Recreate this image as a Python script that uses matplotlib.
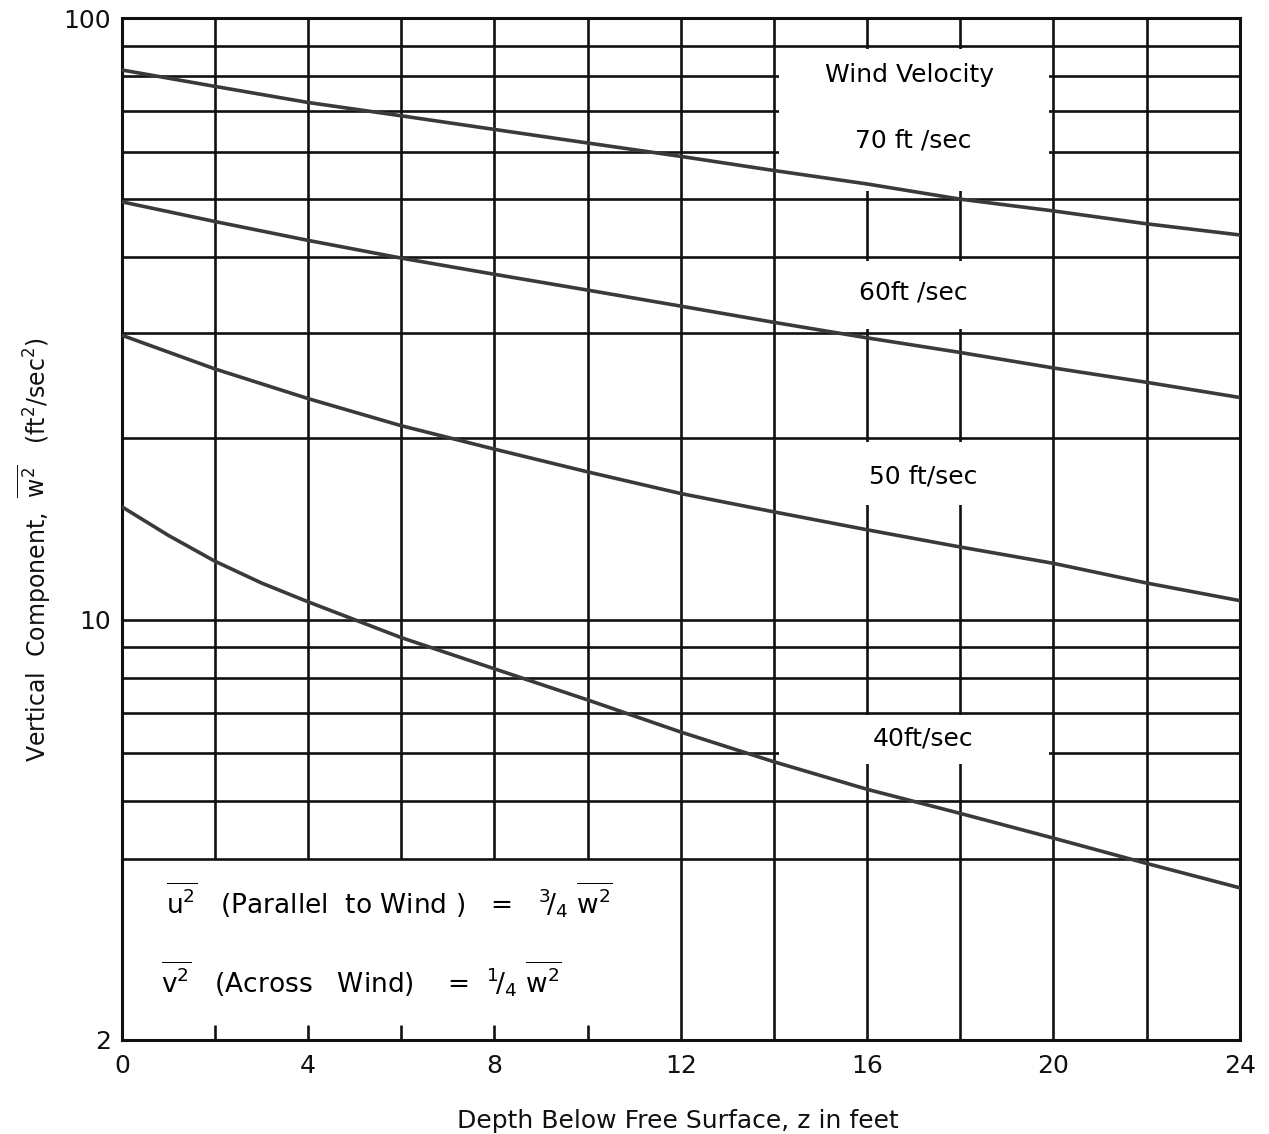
import matplotlib
matplotlib.use("Agg")
import matplotlib.pyplot as plt
from matplotlib.patches import Rectangle
from matplotlib.ticker import NullLocator, FixedLocator

plt.rcParams['font.family'] = ['DejaVu Sans']
plt.rcParams['mathtext.fontset'] = 'dejavusans'

# depth below free surface, z (ft)
depth = [0, 2, 4, 6, 8, 10, 12, 14, 16, 18, 20, 22, 24]
depth_40 = [0, 1, 2, 3, 4, 6, 8, 10, 12, 14, 16, 18, 20, 22, 24]

# vertical component w^2 (ft^2/sec^2)
w2_70 = [82, 77, 72.4, 68.8, 65.3, 62, 58.9, 55.8, 53.0, 50.0, 47.8, 45.5, 43.6]
w2_60 = [49.5, 45.9, 42.7, 39.9, 37.5, 35.3, 33.2, 31.2, 29.4, 27.8, 26.2, 24.8, 23.4]
w2_50 = [29.7, 26.1, 23.3, 21.0, 19.2, 17.6, 16.2, 15.1, 14.1, 13.2, 12.4, 11.5, 10.75]
w2_40 = [15.4, 13.8, 12.5, 11.5, 10.7, 9.33, 8.28, 7.35, 6.5, 5.8, 5.22, 4.76, 4.33, 3.93, 3.58]

curves = [(depth, w2_70), (depth, w2_60), (depth, w2_50), (depth_40, w2_40)]
curve_labels = ['70 ft /sec', '60ft /sec', '50 ft/sec', '40ft/sec']

x_ticks = [0, 4, 8, 12, 16, 20, 24]
y_ticks = [2, 10, 100]
h_grid = [4, 5, 6, 7, 8, 9, 10, 20, 30, 40, 50, 60, 70, 80, 90]
v_grid = [2, 4, 6, 8, 10, 12, 14, 16, 18, 20, 22]

fig = plt.figure(figsize=(12.69, 11.34), dpi=100)
ax = fig.add_axes([0.096, 0.083, 0.881, 0.901])
ax.set_yscale('log')
ax.set_xlim(0, 24)
ax.set_ylim(2, 100)

ink = '#111111'
# graph paper grid (no lines in the note box at lower left)
for v in h_grid:
    ax.axhline(v, color=ink, lw=1.9, zorder=1)
for z in v_grid:
    ymin = 2 if z >= 12 else 4
    ax.vlines(z, ymin, 100, color=ink, lw=1.9, zorder=1)
    if z < 12:
        ax.vlines(z, 2, 2.12, color=ink, lw=1.9, zorder=1)

# blank patches where the labels sit
for (x0, x1, y0, y1) in [(14.1, 19.9, 51.5, 89), (14.1, 19.9, 30.4, 39.5),
                         (14.1, 19.9, 15.5, 19.7), (14.1, 19.9, 5.75, 6.95)]:
    ax.add_patch(Rectangle((x0, y0), x1 - x0, y1 - y0, facecolor='white',
                           edgecolor='none', zorder=2))

for xs, vals in curves:
    ax.plot(xs, vals, color='#3a3a3a', lw=2.6, zorder=3, solid_joinstyle='round')

fs = 18
ax.text(16.9, 80.5, 'Wind Velocity', fontsize=fs, ha='center', va='center', zorder=4)
label_pos = [(17.0, 62.5), (17.0, 35.0), (17.2, 17.3), (17.2, 6.35)]
for (lx, ly), txt in zip(label_pos, curve_labels):
    ax.text(lx, ly, txt, fontsize=fs, ha='center', va='center', zorder=4)

ax.text(0.95, 3.42,
        r'$\overline{\mathrm{u}^2}$   (Parallel  to Wind )   =   $^{3}\!/_{4}\ \overline{\mathrm{w}^2}$',
        fontsize=19, ha='left', va='center', zorder=4)
ax.text(0.85, 2.52,
        r'$\overline{\mathrm{v}^2}$   (Across   Wind)    =  $^{1}\!/_{4}\ \overline{\mathrm{w}^2}$',
        fontsize=19, ha='left', va='center', zorder=4)

ax.xaxis.set_major_locator(FixedLocator(x_ticks))
ax.set_xticklabels([str(t) for t in x_ticks])
ax.yaxis.set_major_locator(FixedLocator(y_ticks))
ax.yaxis.set_minor_locator(NullLocator())
ax.set_yticklabels([str(t) for t in y_ticks])
ax.tick_params(axis='both', length=0, labelsize=fs, colors=ink)
ax.tick_params(axis='x', pad=10)
ax.tick_params(axis='y', pad=8)

for s in ax.spines.values():
    s.set_linewidth(2.2)
    s.set_color(ink)

ax.set_xlabel('Depth Below Free Surface, z in feet', fontsize=fs, color=ink)
ax.xaxis.set_label_coords(0.497, -0.068)
ax.set_ylabel(r'Vertical  Component,  $\overline{\mathrm{w}^2}$   (ft$^2$/sec$^2$)',
              fontsize=17, color=ink)
ax.yaxis.set_label_coords(-0.062, 0.48)

fig.savefig('out.png', dpi=100, facecolor='white')
